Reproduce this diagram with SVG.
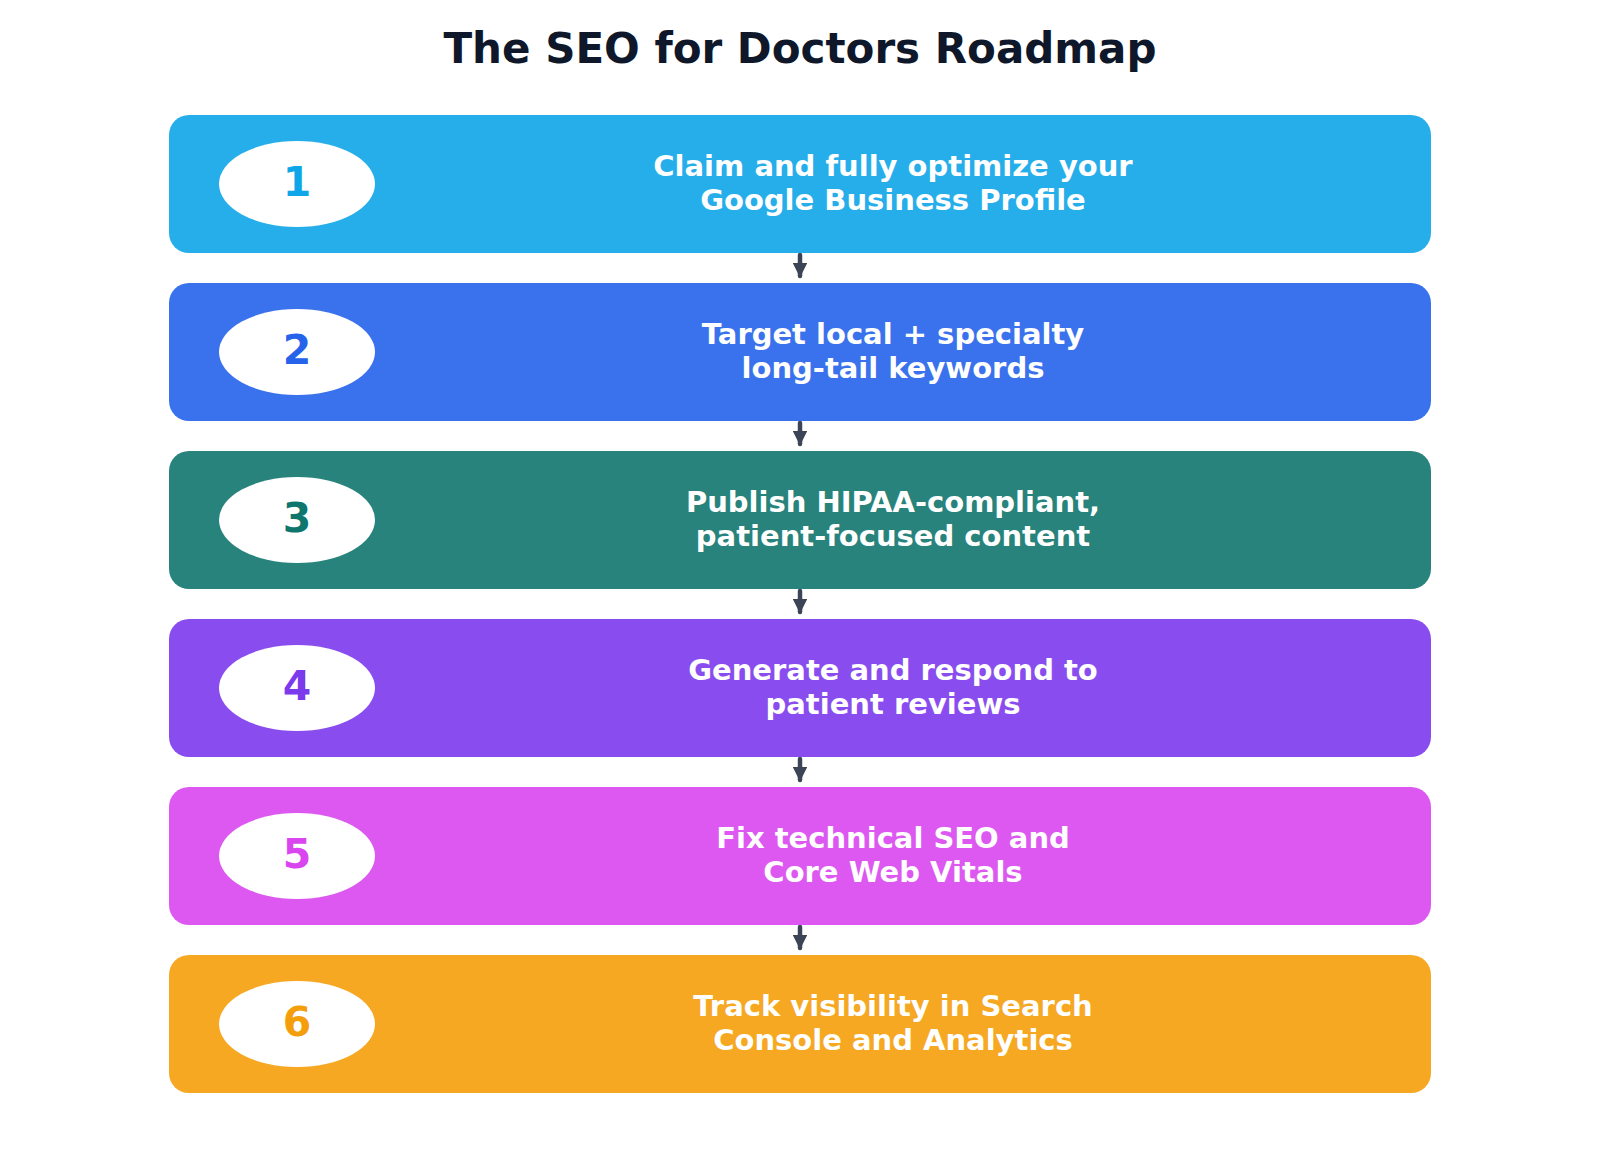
<svg xmlns="http://www.w3.org/2000/svg" width="1600" height="1156" viewBox="0 0 1600 1156">
<style>
.box{fill-opacity:0.9}
.badge{fill:#ffffff}
.num{font-family:"DejaVu Sans",sans-serif;font-weight:bold;font-size:41px;text-anchor:middle}
.lbl{font-family:"DejaVu Sans",sans-serif;font-weight:bold;font-size:29px;text-anchor:middle;fill:#ffffff}
.title{font-family:"DejaVu Sans",sans-serif;font-weight:bold;font-size:42px;text-anchor:middle;fill:#0f172a}
.conn{stroke:#3b4555;stroke-width:4.5;fill:none;stroke-linecap:round}
</style>
<defs>
<marker id="ah" viewBox="0 0 10 10" refX="9" refY="5" markerWidth="3.3" markerHeight="3.3" orient="auto" markerUnits="strokeWidth">
<path d="M0,0 L10,5 L0,10 z" fill="#3b4555"/>
</marker>
</defs>
<rect width="1600" height="1156" fill="#ffffff"/>
<text class="title" x="800" y="63">The SEO for Doctors Roadmap</text>

<g id="connectors">
<line class="conn" x1="800" y1="255" x2="800" y2="276" marker-end="url(#ah)"/>
<line class="conn" x1="800" y1="423" x2="800" y2="444" marker-end="url(#ah)"/>
<line class="conn" x1="800" y1="591" x2="800" y2="612" marker-end="url(#ah)"/>
<line class="conn" x1="800" y1="759" x2="800" y2="780" marker-end="url(#ah)"/>
<line class="conn" x1="800" y1="927" x2="800" y2="948" marker-end="url(#ah)"/>
</g>

<g id="step1">
<rect class="box" x="169" y="115" width="1262" height="138" rx="20" fill="#0ea5e9"/>
<ellipse class="badge" cx="297" cy="184" rx="78" ry="43"/>
<text class="num" x="297" y="196" fill="#0ea5e9">1</text>
<text class="lbl" x="893" y="176">Claim and fully optimize your</text>
<text class="lbl" x="893" y="210">Google Business Profile</text>
</g>

<g id="step2">
<rect class="box" x="169" y="283" width="1262" height="138" rx="20" fill="#2563eb"/>
<ellipse class="badge" cx="297" cy="352" rx="78" ry="43"/>
<text class="num" x="297" y="364" fill="#2563eb">2</text>
<text class="lbl" x="893" y="344">Target local + specialty</text>
<text class="lbl" x="893" y="378">long-tail keywords</text>
</g>

<g id="step3">
<rect class="box" x="169" y="451" width="1262" height="138" rx="20" fill="#0f766e"/>
<ellipse class="badge" cx="297" cy="520" rx="78" ry="43"/>
<text class="num" x="297" y="532" fill="#0f766e">3</text>
<text class="lbl" x="893" y="512">Publish HIPAA-compliant,</text>
<text class="lbl" x="893" y="546">patient-focused content</text>
</g>

<g id="step4">
<rect class="box" x="169" y="619" width="1262" height="138" rx="20" fill="#7c3aed"/>
<ellipse class="badge" cx="297" cy="688" rx="78" ry="43"/>
<text class="num" x="297" y="700" fill="#7c3aed">4</text>
<text class="lbl" x="893" y="680">Generate and respond to</text>
<text class="lbl" x="893" y="714">patient reviews</text>
</g>

<g id="step5">
<rect class="box" x="169" y="787" width="1262" height="138" rx="20" fill="#d946ef"/>
<ellipse class="badge" cx="297" cy="856" rx="78" ry="43"/>
<text class="num" x="297" y="868" fill="#d946ef">5</text>
<text class="lbl" x="893" y="848">Fix technical SEO and</text>
<text class="lbl" x="893" y="882">Core Web Vitals</text>
</g>

<g id="step6">
<rect class="box" x="169" y="955" width="1262" height="138" rx="20" fill="#f59e0b"/>
<ellipse class="badge" cx="297" cy="1024" rx="78" ry="43"/>
<text class="num" x="297" y="1036" fill="#f59e0b">6</text>
<text class="lbl" x="893" y="1016">Track visibility in Search</text>
<text class="lbl" x="893" y="1050">Console and Analytics</text>
</g>
</svg>
